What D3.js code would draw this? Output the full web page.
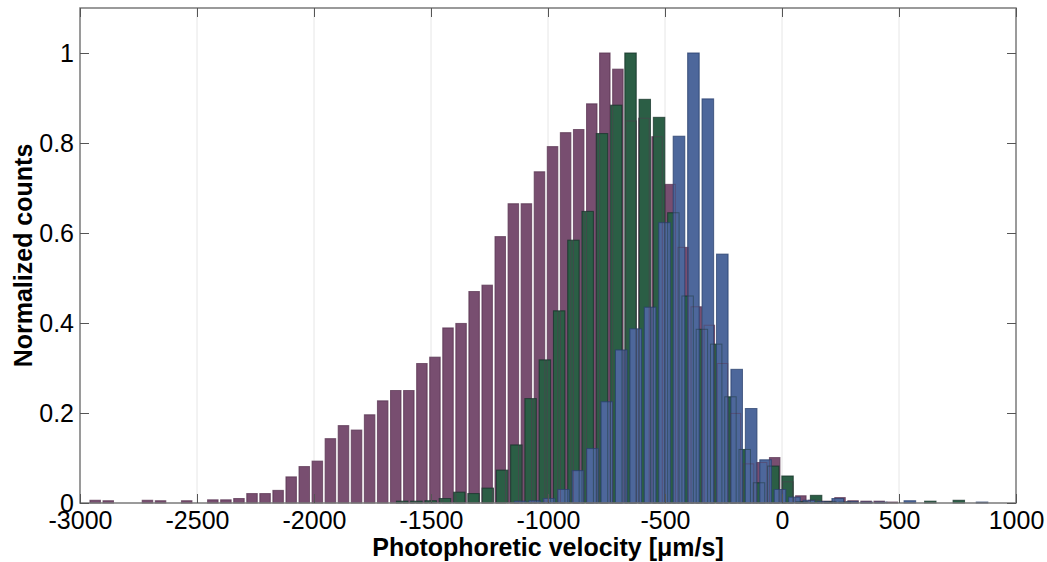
<!DOCTYPE html>
<html>
<head>
<meta charset="utf-8">
<script src="https://cdn.jsdelivr.net/npm/d3@7"></script>
<style>
  body { margin: 0; background: #fff; }
  text { font-family: "Liberation Sans", Arial, Helvetica, sans-serif; }
</style>
</head>
<body>
<div id="chart"></div>
<script>
// histogram bins: centre of first bin + bin width, then normalized counts per bin
const purpleStart = -2935, purpleBin = 55.84;
const purpleCounts = [0.006, 0.005, 0, 0, 0.006, 0.005, 0, 0.005, 0, 0.007, 0.007, 0.010,
  0.021, 0.021, 0.028, 0.058, 0.081, 0.093, 0.143, 0.172, 0.162, 0.196, 0.227, 0.250,
  0.250, 0.310, 0.324, 0.389, 0.399, 0.470, 0.484, 0.592, 0.665, 0.665, 0.736, 0.792,
  0.823, 0.830, 0.887, 1.0, 0.964, 0.849, 0.855, 0.814, 0.708, 0.568, 0.436, 0.395,
  0.310, 0.199, 0.087, 0.090, 0.101, 0.047, 0.016, 0.006, 0.004, 0.012, 0.005, 0.004,
  0.004, 0.002];

const greenStart = -1623.3, greenBin = 61.0;
const greenCounts = [0.004, 0.004, 0.005, 0.010, 0.024, 0.021, 0.033, 0.073, 0.129, 0.232,
  0.318, 0.427, 0.584, 0.648, 0.821, 0.884, 1.0, 0.897, 0.857, 0.645, 0.460, 0.386,
  0.353, 0.236, 0.119, 0.045, 0.082, 0.060, 0.003, 0.017, 0.003, 0.002, 0, 0, 0, 0,
  0, 0.004, 0, 0.006];

const blueStart = -1118.6, blueBin = 61.67;
const blueCounts = [0.004, 0.005, 0.010, 0.030, 0.072, 0.121, 0.225, 0.340, 0.387, 0.435,
  0.623, 0.815, 1.0, 0.898, 0.553, 0.297, 0.210, 0.096, 0.030, 0.013, 0.006, 0.003,
  0.010, 0.003, 0.002, 0.002, 0, 0.005, 0, 0, 0, 0, 0.002];

const xTicks = [-3000, -2500, -2000, -1500, -1000, -500, 0, 500, 1000];
const yTicks = [0, 0.2, 0.4, 0.6, 0.8, 1];

const width = 1047, height = 562;
const margin = { top: 8, right: 31, bottom: 59, left: 80 };
const w = width - margin.left - margin.right;
const h = height - margin.top - margin.bottom;

const svg = d3.select("#chart").append("svg")
  .attr("width", width)
  .attr("height", height);

const g = svg.append("g")
  .attr("transform", `translate(${margin.left},${margin.top})`);

const x = d3.scaleLinear().domain([-3000, 1000]).range([0, w]);
const y = d3.scaleLinear().domain([0, 1.1]).range([h, 0]);

// vertical grid
g.selectAll(".grid")
  .data(xTicks.slice(1, -1))
  .enter().append("line")
  .attr("x1", d => x(d)).attr("x2", d => x(d))
  .attr("y1", 0).attr("y2", h)
  .attr("stroke", "#e6e6e6")
  .attr("stroke-width", 1);

const series = [
  { start: purpleStart, bin: purpleBin, counts: purpleCounts, fill: "#784e70", edge: "#5a3553" },
  { start: greenStart, bin: greenBin, counts: greenCounts, fill: "#2b5e45", edge: "#16342a" },
  { start: blueStart, bin: blueBin, counts: blueCounts, fill: "#4d679b", edge: "#2a416e" }
];

function binsOf(s) {
  return s.counts.map((c, i) => ({ c: s.start + i * s.bin, v: c, bw: s.bin * 0.8 }))
    .filter(d => d.v > 0);
}

// fills first, then edges over them so overlapped outlines show through
series.forEach(s => {
  g.append("g").selectAll("rect")
    .data(binsOf(s))
    .enter().append("rect")
    .attr("x", d => x(d.c - d.bw / 2))
    .attr("width", d => x(d.c + d.bw / 2) - x(d.c - d.bw / 2))
    .attr("y", d => y(d.v))
    .attr("height", d => y(0) - y(d.v))
    .attr("fill", s.fill)
    .attr("stroke", s.edge)
    .attr("stroke-opacity", 0.5)
    .attr("stroke-width", 1);
});
series.forEach(s => {
  g.append("g").selectAll("rect")
    .data(binsOf(s))
    .enter().append("rect")
    .attr("x", d => x(d.c - d.bw / 2))
    .attr("width", d => x(d.c + d.bw / 2) - x(d.c - d.bw / 2))
    .attr("y", d => y(d.v))
    .attr("height", d => y(0) - y(d.v))
    .attr("fill", "none")
    .attr("stroke", s.edge)
    .attr("stroke-opacity", 0.45)
    .attr("stroke-width", 1);
});

// box
g.append("rect")
  .attr("x", 0).attr("y", 0).attr("width", w).attr("height", h)
  .attr("fill", "none").attr("stroke", "#7a7a7a").attr("stroke-width", 1.5);

// axes with inward ticks
const axisStyle = sel => {
  sel.select(".domain").remove();
  sel.selectAll(".tick line").attr("stroke", "#555");
  sel.selectAll(".tick text").attr("fill", "#000").style("font-size", "25px")
    .style("font-family", "'Liberation Sans', Arial, sans-serif");
};

g.append("g")
  .attr("transform", `translate(0,${h})`)
  .call(d3.axisBottom(x).tickValues(xTicks).tickSize(-9).tickPadding(8).tickFormat(d3.format("d")))
  .call(axisStyle)
  .call(a => a.selectAll(".tick text").text(d => d < 0 ? "-" + Math.abs(d) : d));

g.append("g")
  .call(d3.axisTop(x).tickValues(xTicks).tickSize(-9).tickFormat(""))
  .call(axisStyle);

g.append("g")
  .call(d3.axisLeft(y).tickValues(yTicks).tickSize(-9).tickPadding(6).tickFormat(d => d === 0 || d === 1 ? d : d3.format(".1f")(d)))
  .call(axisStyle);

g.append("g")
  .attr("transform", `translate(${w},0)`)
  .call(d3.axisRight(y).tickValues(yTicks).tickSize(-9).tickFormat(""))
  .call(axisStyle);

// axis titles
svg.append("text")
  .attr("x", margin.left + w / 2)
  .attr("y", 556)
  .attr("text-anchor", "middle")
  .style("font-size", "25px")
  .style("font-weight", "bold")
  .text("Photophoretic velocity [μm/s]");

svg.append("text")
  .attr("transform", `translate(32,${margin.top + h / 2}) rotate(-90)`)
  .attr("text-anchor", "middle")
  .style("font-size", "25px")
  .style("font-weight", "bold")
  .text("Normalized counts");
</script>
</body>
</html>
